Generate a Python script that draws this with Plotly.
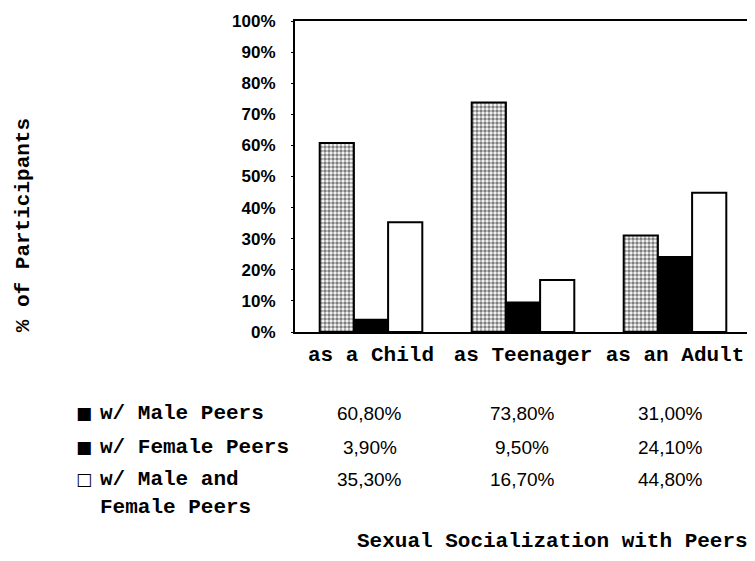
import plotly.graph_objects as go

categories = ["as a Child", "as Teenager", "as an Adult"]
series_names = ["w/ Male Peers", "w/ Female Peers", "w/ Male and<br>Female Peers"]
male = [60.8, 73.8, 31.0]
female = [3.9, 9.5, 24.1]
both = [35.3, 16.7, 44.8]
y_ticks = list(range(0, 101, 10))
y_labels = [f"{t}%" for t in y_ticks]

# page body margin compensation (browser default 8px)
OX, OY = 8, 8
W, H = 755 - OX, 561 - 2 * OY
PL, PR, PT, PB = 295, 753, 21, 332  # plot box in screen pixels
ML, MR, MT, MB = PL - OX, W - (PR - OX), PT - OY, H - (PB - OY)

fig = go.Figure()
line = dict(color="black", width=2)
fig.add_bar(x=categories, y=male, name=series_names[0],
            marker=dict(color="white", line=line,
                        pattern=dict(shape=".", fgcolor="black", bgcolor="white",
                                     size=4, solidity=0.6)))
fig.add_bar(x=categories, y=female, name=series_names[1],
            marker=dict(color="black", line=line))
fig.add_bar(x=categories, y=both, name=series_names[2],
            marker=dict(color="white", line=line))

fig.update_layout(
    width=W, height=H,
    margin=dict(l=ML, r=MR, t=MT, b=MB),
    paper_bgcolor="white", plot_bgcolor="white",
    barmode="group", bargap=0.325, bargroupgap=0,
    showlegend=False,
    font=dict(family="Liberation Mono", color="black"),
)
fig.update_xaxes(showline=True, linecolor="black", linewidth=2, mirror=True,
                 ticks="", ticklabelstandoff=2,
                 tickfont=dict(family="Liberation Mono", size=21, color="black", weight="bold"))
fig.update_yaxes(range=[0, 100], tickvals=y_ticks, ticktext=y_labels,
                 showline=True, linecolor="black", linewidth=2, mirror=True,
                 showgrid=False, zeroline=False, ticks="outside", ticklen=2,
                 tickcolor="black", ticklabelstandoff=12,
                 tickfont=dict(family="Liberation Sans", size=17, color="black", weight="bold"))

pw, ph = PR - PL, PB - PT

def px(xs):
    return (xs - PL) / pw

def py(ys):
    return (PB - ys) / ph

# y axis title
fig.add_annotation(text="<b>% of Participants</b>", xref="paper", yref="paper",
                   x=px(22), y=py(225), xanchor="center", yanchor="middle",
                   textangle=-90, showarrow=False,
                   font=dict(family="Liberation Mono", size=21))

# data table below
symbols = ["■", "■", "□"]
series_vals = [male, female, both]
row_y = [413, 447, 479]
col_x = [370, 523, 672]

for i, name in enumerate(series_names):
    label = name.split("<br>")
    fig.add_annotation(text=symbols[i], xref="paper", yref="paper",
                       x=px(73), y=py(row_y[i]), xanchor="left", yanchor="middle",
                       showarrow=False, font=dict(family="DejaVu Sans", size=17))
    fig.add_annotation(text="<b>" + label[0] + "</b>", xref="paper", yref="paper",
                       x=px(97), y=py(row_y[i]), xanchor="left", yanchor="middle",
                       showarrow=False, font=dict(family="Liberation Mono", size=21))
    if len(label) > 1:
        fig.add_annotation(text="<b>" + label[1] + "</b>", xref="paper", yref="paper",
                           x=px(97), y=py(507), xanchor="left", yanchor="middle",
                           showarrow=False, font=dict(family="Liberation Mono", size=21))
    for j, v in enumerate(series_vals[i]):
        fig.add_annotation(text=f"{v:.2f}".replace(".", ",") + "%", xref="paper", yref="paper",
                           x=px(col_x[j]), y=py(row_y[i]), xanchor="center", yanchor="middle",
                           showarrow=False, font=dict(family="Liberation Sans", size=19))

fig.add_annotation(text="<b>Sexual Socialization with Peers</b>", xref="paper", yref="paper",
                   x=px(752), y=py(541), xanchor="right", yanchor="middle",
                   showarrow=False, font=dict(family="Liberation Mono", size=21))

fig.write_html("out.html")
